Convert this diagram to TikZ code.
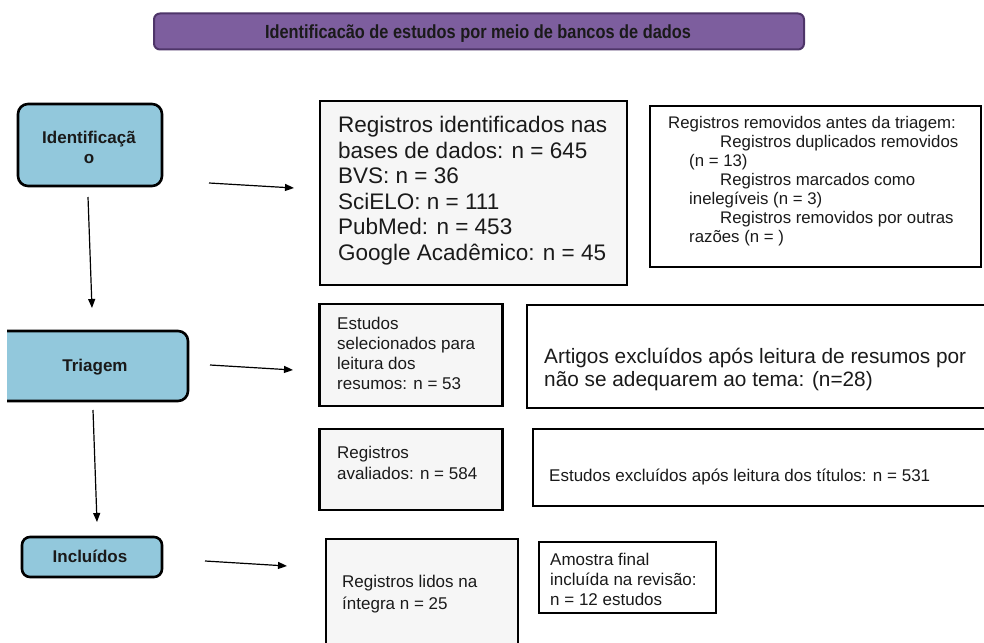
\documentclass[tikz,border=0pt]{standalone}
\usepackage{fontspec}
\setmainfont{Liberation Sans}
\usetikzlibrary{arrows.meta}
\definecolor{bluefill}{HTML}{92C8DC}
\definecolor{purfill}{HTML}{7D5E9E}
\definecolor{purline}{HTML}{4E3569}
\definecolor{boxgray}{HTML}{F6F6F6}
\definecolor{txt}{HTML}{1A1A1A}
\tikzset{
  stage/.style={draw=black, line width=2.6pt, fill=bluefill, rounded corners=10pt, inner sep=0pt},
  stagetxt/.style={inner sep=0pt, font=\bfseries\fontsize{17}{20}\selectfont, text=txt, align=center},
  boxg/.style={draw=black, line width=2.8pt, fill=boxgray, inner sep=0pt},
  boxw/.style={draw=black, line width=2.8pt, fill=white, inner sep=0pt},
  lbl/.style={inner sep=0pt, anchor=north west, align=left, text=txt},
  arr/.style={line width=1.2pt, -{Triangle[length=9pt,width=7pt]}},
}
\begin{document}
\begin{tikzpicture}[x=1pt,y=-1pt]
\useasboundingbox (0,0) rectangle (984,642);
\fill[white] (0,0) rectangle (984,642);

% banner
\node[draw=purline, line width=2pt, fill=purfill, rounded corners=6pt, minimum width=650pt, minimum height=36pt, inner sep=0pt] (banner) at (479,31.5) {};
\node[inner sep=0pt, text=txt, font=\bfseries\fontsize{19}{22}\selectfont] (bannertxt) at (478,34) {\scalebox{0.86}[1]{Identificacão de estudos por meio de bancos de dados}};

% stages
\node[stage, minimum width=144pt, minimum height=82pt] (idn) at (90,145) {};
\node[stagetxt] (idntxt) at (89,147) {Identificaçã\\o};
\begin{scope}
\clip (7,300) rectangle (220,420);
\node[stage, minimum width=210pt, minimum height=70pt] (tri) at (83,366) {};
\end{scope}
\node[stagetxt] (tritxt) at (95,367) {Triagem};
\node[stage, rounded corners=8pt, minimum width=140pt, minimum height=40pt] (inc) at (92,557) {};
\node[stagetxt] (inctxt) at (90,556) {Incluídos};

% boxes
\node[boxg, minimum width=307pt, minimum height=184pt] (b1) at (473.5,193) {};
\node[lbl, font=\fontsize{22.5}{25.6}\selectfont] (b1t) at (338,116) {Registros identificados nas\\bases de dados: n = 645\\BVS: n = 36\\SciELO: n = 111\\PubMed: n = 453\\Google Acadêmico: n = 45};

\node[boxw, minimum width=331pt, minimum height=161pt] (b2) at (815.5,186.5) {};
\node[lbl, font=\fontsize{16.8}{19}\selectfont] (b2t) at (668,116) {Registros removidos antes da triagem:\\
\hspace*{52pt}Registros duplicados removidos\\
\hspace*{21pt}(n = 13)\\
\hspace*{52pt}Registros marcados como\\
\hspace*{21pt}inelegíveis (n = 3)\\
\hspace*{52pt}Registros removidos por outras\\
\hspace*{21pt}razões (n = )};

\node[boxg, minimum width=183pt, minimum height=102pt] (sel) at (411,355) {};
\node[lbl, font=\fontsize{17}{20}\selectfont] (selt) at (337,317) {Estudos\\selecionados para\\leitura dos\\resumos: n = 53};

\node[boxw, minimum width=480pt, minimum height=103pt] (art) at (767,356.5) {};
\node[lbl, font=\fontsize{20.8}{23}\selectfont] (artt) at (544,348) {Artigos excluídos após leitura de resumos por\\não se adequarem ao tema: (n=28)};

\node[boxg, minimum width=183pt, minimum height=81pt] (ava) at (411,469.5) {};
\node[lbl, font=\fontsize{17}{21}\selectfont] (avat) at (337,446) {Registros\\avaliados: n = 584};

\node[boxw, minimum width=470pt, minimum height=77pt] (exc) at (768,467.5) {};
\node[lbl, font=\fontsize{17}{19.5}\selectfont] (exct) at (549,469) {Estudos excluídos após leitura dos títulos: n = 531};

\node[boxg, minimum width=192pt, minimum height=121pt] (lid) at (422,599.5) {};
\node[lbl, font=\fontsize{17}{22}\selectfont] (lidt) at (342,575) {Registros lidos na\\íntegra n = 25};

\node[boxw, minimum width=177pt, minimum height=71pt] (amo) at (627.5,577.5) {};
\node[lbl, font=\fontsize{17}{20}\selectfont] (amot) at (550,553) {Amostra final\\incluída na revisão:\\n = 12 estudos};

% arrows
\coordinate (a1s) at (209,183); \coordinate (a1e) at (294,188);
\coordinate (d1s) at (88,197);  \coordinate (d1e) at (92,308);
\coordinate (a2s) at (210,365); \coordinate (a2e) at (293,370);
\coordinate (d2s) at (93,410);  \coordinate (d2e) at (97,522);
\coordinate (a3s) at (205,561); \coordinate (a3e) at (287,566);
\draw[arr] (a1s) -- (a1e);
\draw[arr] (d1s) -- (d1e);
\draw[arr] (a2s) -- (a2e);
\draw[arr] (d2s) -- (d2e);
\draw[arr] (a3s) -- (a3e);
\end{tikzpicture}
\end{document}
